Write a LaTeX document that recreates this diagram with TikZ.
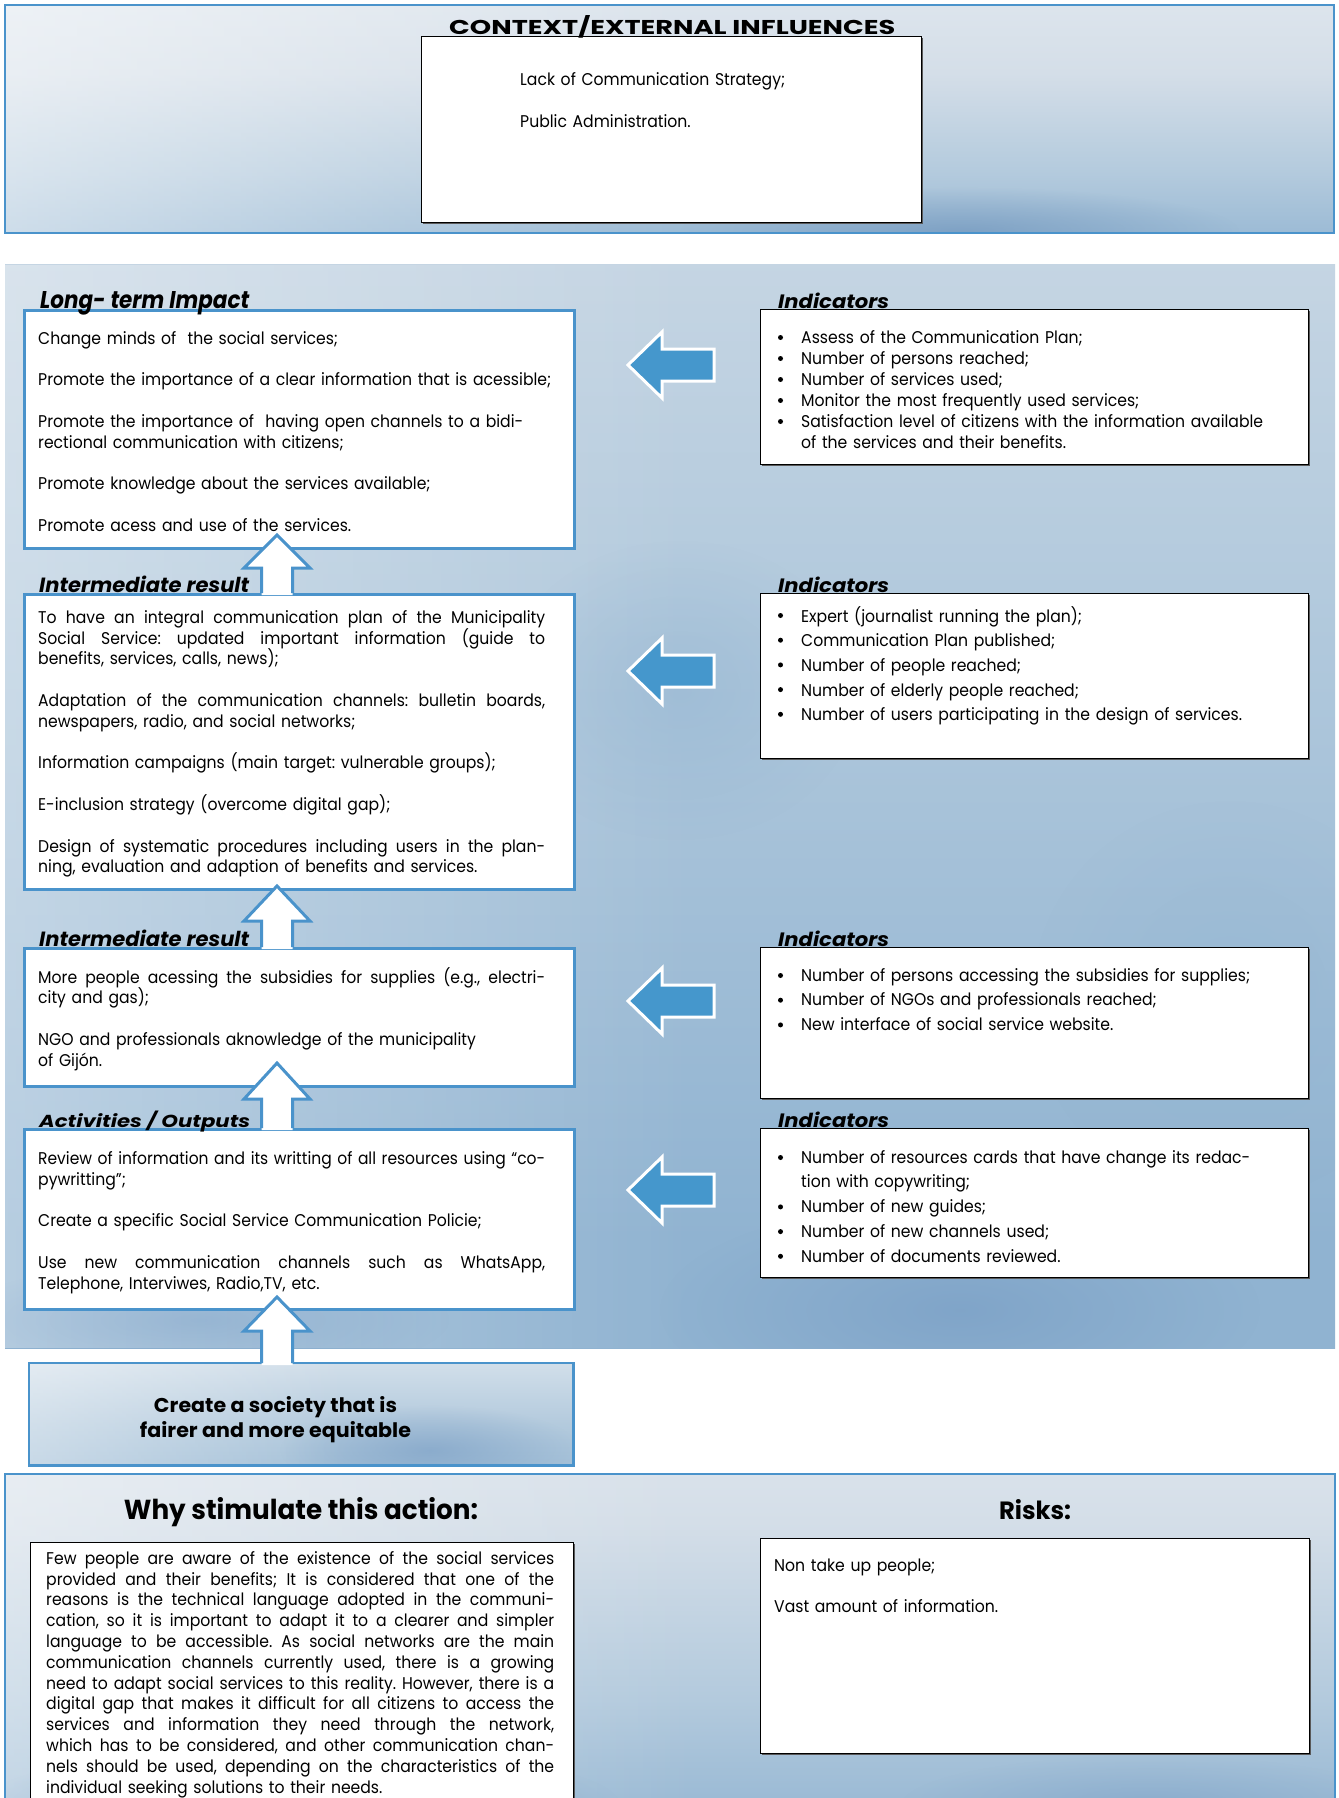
\documentclass[tikz,border=0pt]{standalone}
\usepackage{fontspec}
\setmainfont{Poppins}[FakeStretch=0.92]
\usepackage{graphicx}
\usetikzlibrary{fadings,shadows}

\definecolor{bbl}{HTML}{4A93CB}
\definecolor{arrc}{HTML}{4597CC}
\definecolor{pA}{HTML}{EAEFF4}
\definecolor{pB}{HTML}{D4DEE8}
\definecolor{pC}{HTML}{B3CADD}
\definecolor{pD}{HTML}{90B3D1}
\definecolor{pE}{HTML}{7399C2}
\definecolor{pF}{HTML}{5F87B3}

\pgfdeclareverticalshading{toppan}{100bp}{color(0bp)=(pE); color(6bp)=(pE); color(18bp)=(pD); color(38bp)=(pC); color(60bp)=(pB); color(100bp)=(pA)}
\pgfdeclareverticalshading{midpan}{100bp}{color(0bp)=(pD); color(30bp)=(pD); color(60bp)=(pC); color(88bp)=(pB); color(100bp)=(pB)}
\pgfdeclareverticalshading{botpan}{100bp}{color(0bp)=(pE); color(20bp)=(pD); color(42bp)=(pC); color(68bp)=(pB); color(100bp)=(pA)}
\pgfdeclareverticalshading{goalpan}{100bp}{color(0bp)=(pD); color(45bp)=(pC); color(100bp)=(pA)}
\tikzfading[name=blobfade, inner color=transparent!0, outer color=transparent!100]
\tikzfading[name=fadeleft, left color=transparent!0, right color=transparent!100]

\newcommand\bodyf{\fontsize{17}{20.8}\selectfont\frenchspacing}
\newcommand\indf{\fontsize{17}{21}\selectfont\frenchspacing}
\newcommand\indff{\fontsize{17}{24.7}\selectfont\frenchspacing}
\newcommand\fs{\rule{0pt}{15pt}}
\newcommand\gap{\\[20.8pt]}
\newsavebox\jbox
\newcommand\Jx[2]{\sbox\jbox{#2}\ifdim\wd\jbox>#1\relax\resizebox{#1}{\height}{#2}\else\makebox[#1][s]{\spaceskip=\fontdimen2\font plus 1fil\relax #2}\fi}
\newcommand\J[1]{\Jx{507pt}{#1}}
\newcommand\JW[1]{\Jx{508pt}{#1}}
\newcommand\ct{\hspace*{25pt}}

\newcommand\larr[1]{%
  \filldraw[fill=arrc, draw=white, line width=3pt, line join=miter]
    (628,#1) -- (662,#1-33) -- (662,#1-16) -- (714,#1-16) -- (714,#1+16)
    -- (662,#1+16) -- (662,#1+33) -- cycle;}
\newcommand\uarr[3]{%
  \fill[white] (261.5,#3+2) -- (261.5,#2) -- (244,#2) -- (277,#1) -- (310,#2)
    -- (292.5,#2) -- (292.5,#3+2) -- cycle;
  \draw[bbl, line width=3pt, line join=miter] (261.5,#3) -- (261.5,#2) -- (244,#2)
    -- (277,#1) -- (310,#2) -- (292.5,#2) -- (292.5,#3);}
\newcommand\bul[1]{\fill (780.5,#1-5.5) circle (2.5pt);}

\begin{document}
\begin{tikzpicture}[x=1pt,y=-1pt,
  lbox/.style={draw=bbl, line width=2.8pt, fill=white, inner sep=0pt, anchor=north west},
  kbox/.style={draw=black, line width=1.3pt, fill=white, inner sep=0pt, anchor=north west,
     drop shadow={shadow xshift=1.6pt, shadow yshift=-1.6pt, fill=black!65, opacity=1}},
  tx/.style={anchor=north west, inner sep=0pt, text width=#1, align=left},
  hd/.style={anchor=base west, inner sep=0pt},
  hc/.style={anchor=base, inner sep=0pt}]
\useasboundingbox (0,0) rectangle (1338,1798);
\fill[white] (0,0) rectangle (1338,1798);

% panels
\shade[shading=toppan] (5,5) rectangle (1334,233);
\begin{scope}
  \clip (5,5) rectangle (1334,233);
  \fill[white, path fading=fadeleft, fill opacity=0.5] (5,5) rectangle (700,233);
  \fill[pF, path fading=blobfade, fill opacity=0.5] (960,232) ellipse (280pt and 45pt);
\end{scope}
\draw[bbl, line width=2.5pt] (5,5) rectangle (1334,233);

\shade[shading=midpan] (5,264) rectangle (1335,1348);
\begin{scope}
  \clip (5,264) rectangle (1335,1348);
  \fill[white, path fading=fadeleft, fill opacity=0.35] (5,264) rectangle (700,1348);
  \fill[pE, path fading=blobfade, fill opacity=0.55] (960,1310) ellipse (300pt and 110pt);
  \fill[pD, path fading=blobfade, fill opacity=0.45] (680,690) ellipse (180pt and 150pt);
  \fill[pD, path fading=blobfade, fill opacity=0.4] (1230,1000) ellipse (200pt and 200pt);
  \fill[pE, path fading=blobfade, fill opacity=0.35] (200,1320) ellipse (250pt and 60pt);
\end{scope}

\shade[shading=botpan] (5,1474) rectangle (1335,1815);
\begin{scope}
  \clip (5,1474) rectangle (1335,1815);
  \fill[white, path fading=fadeleft, fill opacity=0.4] (5,1474) rectangle (700,1815);
  \fill[pE, path fading=blobfade, fill opacity=0.5] (300,1805) ellipse (320pt and 60pt);
  \fill[pE, path fading=blobfade, fill opacity=0.4] (1150,1805) ellipse (250pt and 50pt);
\end{scope}
\draw[bbl, line width=2.5pt] (5,1474) rectangle (1335,1815);

% boxes
\node[kbox, minimum width=500pt, minimum height=186pt] (ctx) at (421,36) {};
\node[lbox, minimum width=550pt, minimum height=238pt] (lt) at (23,309) {};
\node[lbox, minimum width=550pt, minimum height=295pt] (ir1) at (23,593) {};
\node[lbox, minimum width=550pt, minimum height=138pt] (ir2) at (23,947) {};
\node[lbox, minimum width=550pt, minimum height=180pt] (act) at (23,1128) {};
\node[kbox, minimum width=548pt, minimum height=155pt] (ind1) at (760,309) {};
\node[kbox, minimum width=548pt, minimum height=165pt] (ind2) at (760,593) {};
\node[kbox, minimum width=548pt, minimum height=151pt] (ind3) at (760,947) {};
\node[kbox, minimum width=548pt, minimum height=149pt] (ind4) at (760,1128) {};
\node[anchor=north west, inner sep=0pt, minimum width=544pt, minimum height=102pt,
      shading=goalpan] (goal) at (29,1363) {};
\begin{scope}
  \clip (goal.north west) rectangle (goal.south east);
  \fill[white, path fading=fadeleft, fill opacity=0.4] (29,1363) rectangle (350,1465);
  \fill[pE, path fading=blobfade, fill opacity=0.55] (430,1450) ellipse (150pt and 45pt);
\end{scope}
\draw[bbl, line width=2.8pt] (goal.north west) rectangle (goal.south east);
\node[kbox, minimum width=543pt, minimum height=280pt] (why) at (30,1542) {};
\node[kbox, minimum width=549pt, minimum height=215pt] (risk) at (760,1538) {};

% arrows
\larr{365}
\larr{671}
\larr{1001}
\larr{1190}
\uarr{535}{568}{593}
\uarr{886}{921}{947}
\uarr{1063}{1099}{1128}
\uarr{1297}{1331}{1363}

% bullets
\bul{343}\bul{364}\bul{385}\bul{406}\bul{427}
\bul{621}\bul{645.7}\bul{670.4}\bul{695.1}\bul{719.8}
\bul{981}\bul{1005.7}\bul{1030.4}
\bul{1163}\bul{1212.4}\bul{1237.1}\bul{1261.8}

% headings
\node[hd] (hctx) at (449,35) {\resizebox{446pt}{19pt}{\bfseries CONTEXT/EXTERNAL INFLUENCES}};
\node[hd] (hlt) at (40,308) {\resizebox{209pt}{17pt}{\bfseries\itshape Long- term Impact}};
\node[hd] (hir1) at (39,592) {\resizebox{210pt}{16.5pt}{\bfseries\itshape Intermediate result}};
\node[hd] (hir2) at (39,946) {\resizebox{210pt}{16.5pt}{\bfseries\itshape Intermediate result}};
\node[hd] (hact) at (39,1127) {\resizebox{211pt}{16.5pt}{\bfseries\itshape Activities / Outputs}};
\node[hd] (hi1) at (778,308) {\resizebox{111pt}{15.5pt}{\bfseries\itshape Indicators}};
\node[hd] (hi2) at (778,592) {\resizebox{111pt}{15.5pt}{\bfseries\itshape Indicators}};
\node[hd] (hi3) at (778,946) {\resizebox{111pt}{15.5pt}{\bfseries\itshape Indicators}};
\node[hd] (hi4) at (778,1127) {\resizebox{111pt}{15.5pt}{\bfseries\itshape Indicators}};
\node[hc] (g1) at (275.5,1412) {\resizebox{243pt}{16pt}{\bfseries Create a society that is}};
\node[hc] (g2) at (275.5,1437) {\resizebox{271pt}{16pt}{\bfseries fairer and more equitable}};
\node[hc] (hwhy) at (301,1519) {\resizebox{354pt}{22pt}{\bfseries Why stimulate this action:}};
\node[hc] (hrisk) at (1035,1519) {\resizebox{72pt}{20pt}{\bfseries Risks:}};

% texts
\node[tx=480pt, font=\bodyf] (tctx) at (520,70) {\fs Lack of Communication Strategy;\\[21.5pt]Public Administration.};

\node[tx=540pt, font=\bodyf] (tlt) at (38,329) {\fs Change minds of\ \ the social services;\gap
Promote the importance of a clear information that is acessible;\gap
Promote the importance of\ \ having open channels to a bidi-\\
rectional communication with citizens;\gap
Promote knowledge about the services available;\gap
Promote acess and use of the services.};

\node[tx=540pt, font=\bodyf] (tir1) at (38,608) {\fs\J{To have an integral communication plan of the Municipality}\\
\J{Social Service: updated important information (guide to}\\
benefits, services, calls, news);\gap
\J{Adaptation of the communication channels: bulletin boards,}\\
newspapers, radio, and social networks;\gap
Information campaigns (main target: vulnerable groups);\gap
E-inclusion strategy (overcome digital gap);\gap
\J{Design of systematic procedures including users in the plan-}\\
ning, evaluation and adaption of benefits and services.};

\node[tx=540pt, font=\bodyf] (tir2) at (38,967) {\fs\J{More people acessing the subsidies for supplies (e.g., electri-}\\
city and gas);\gap
NGO and professionals aknowledge of the municipality\\
of Gijón.};

\node[tx=540pt, font=\bodyf] (tact) at (38,1149) {\fs\J{Review of information and its writting of all resources using “co-}\\
pywritting”;\gap
Create a specific Social Service Communication Policie;\gap
\J{Use new communication channels such as WhatsApp,}\\
Telephone, Interviwes, Radio,TV, etc.};

\node[tx=530pt, font=\indf] (ti1) at (776,328) {\fs\ct Assess of the Communication Plan;\\
\ct Number of persons reached;\\
\ct Number of services used;\\
\ct Monitor the most frequently used services;\\
\ct Satisfaction level of citizens with the information available\\
\ct of the services and their benefits.};

\node[tx=530pt, font=\indff] (ti2) at (776,606) {\fs\ct Expert (journalist running the plan);\\
\ct Communication Plan published;\\
\ct Number of people reached;\\
\ct Number of elderly people reached;\\
\ct Number of users participating in the design of services.};

\node[tx=530pt, font=\indff] (ti3) at (776,966) {\fs\ct Number of persons accessing the subsidies for supplies;\\
\ct Number of NGOs and professionals reached;\\
\ct New interface of social service website.};

\node[tx=530pt, font=\indff] (ti4) at (776,1148) {\fs\ct Number of resources cards that have change its redac-\\
\ct tion with copywriting;\\
\ct Number of new guides;\\
\ct Number of new channels used;\\
\ct Number of documents reviewed.};

\node[tx=530pt, font=\bodyf] (twhy) at (46,1549) {\fs\JW{Few people are aware of the existence of the social services}\\
\JW{provided and their benefits; It is considered that one of the}\\
\JW{reasons is the technical language adopted in the communi-}\\
\JW{cation, so it is important to adapt it to a clearer and simpler}\\
\JW{language to be accessible. As social networks are the main}\\
\JW{communication channels currently used, there is a growing}\\
\JW{need to adapt social services to this reality. However, there is a}\\
\JW{digital gap that makes it difficult for all citizens to access the}\\
\JW{services and information they need through the network,}\\
\JW{which has to be considered, and other communication chan-}\\
\JW{nels should be used, depending on the characteristics of the}\\
individual seeking solutions to their needs.};

\node[tx=520pt, font=\bodyf] (trisk) at (774,1556) {\fs Non take up people;\gap
Vast amount of information.};
\end{tikzpicture}
\end{document}
